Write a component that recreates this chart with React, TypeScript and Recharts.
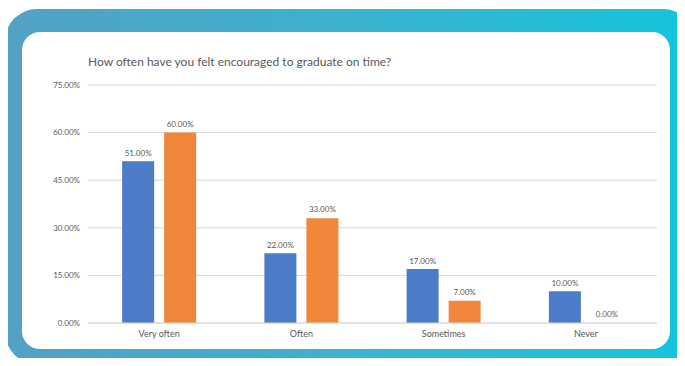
import React from 'react';
import { BarChart, Bar, XAxis, YAxis, CartesianGrid, LabelList } from 'recharts';

const categories = ['Very often', 'Often', 'Sometimes', 'Never'];
const seriesA = [51, 22, 17, 10];
const seriesB = [60, 33, 7, 0];
const yTicks = [0, 15, 30, 45, 60, 75];

const data = categories.map((name, i) => ({ name, a: seriesA[i], b: seriesB[i] }));

const pct = (v: number) => `${Number(v).toFixed(2)}%`;
const font = 'Lato, "Open Sans", sans-serif';

const App: React.FC = () => {
  return (
    <div style={{ position: 'relative', width: 685, height: 366, margin: -8, overflow: 'hidden', background: '#fff', fontFamily: font }}>
      <div
        style={{
          position: 'absolute', left: 5, top: 9, width: 690, height: 355, borderRadius: 32,
          background: 'linear-gradient(90deg, #53a1c3 0%, #3cb2cf 50%, #14c4dd 100%)',
        }}
      />
      <div style={{ position: 'absolute', left: 22, top: 32, width: 648, height: 317, borderRadius: 18, background: '#fff' }} />
      <div style={{ position: 'absolute', left: 88, top: 54, fontSize: 12, color: '#595959', whiteSpace: 'nowrap' }}>
        How often have you felt encouraged to graduate on time?
      </div>
      <div style={{ position: 'absolute', left: 0, top: 0 }}>
        <BarChart
          width={685}
          height={366}
          data={data}
          margin={{ top: 85, right: 28, left: 28, bottom: 13 }}
          barCategoryGap="24%"
          barGap={10}
        >
          <CartesianGrid vertical={false} stroke="#d9d9d9" />
          <XAxis
            dataKey="name"
            axisLine={{ stroke: '#d9d9d9' }}
            tickLine={false}
            height={30}
            tick={{ fill: '#595959', fontSize: 9, fontFamily: font }}
          />
          <YAxis
            domain={[0, 75]}
            ticks={yTicks}
            width={60}
            axisLine={false}
            tickLine={false}
            tickFormatter={pct}
            tick={{ fill: '#595959', fontSize: 8, fontFamily: font }}
          />
          <Bar dataKey="a" fill="#4b7bc9" isAnimationActive={false}>
            <LabelList dataKey="a" position="top" formatter={pct} fill="#595959" fontSize={8} fontFamily={font} />
          </Bar>
          <Bar dataKey="b" fill="#f0873a" minPointSize={0.01} isAnimationActive={false}>
            <LabelList dataKey="b" position="top" offset={6} formatter={pct} fill="#595959" fontSize={8} fontFamily={font} />
          </Bar>
        </BarChart>
      </div>
    </div>
  );
};

export default App;
